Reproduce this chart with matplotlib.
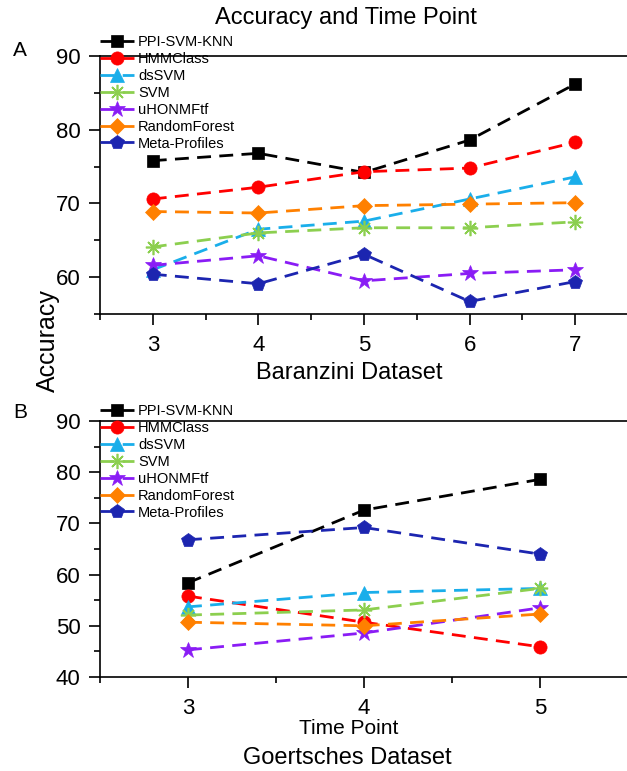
import numpy as np
import matplotlib
matplotlib.use('Agg')
import matplotlib.pyplot as plt
from matplotlib.ticker import MultipleLocator

plt.rcParams['font.family'] = ['Liberation Sans', 'DejaVu Sans']

# datos
methods = ['PPI-SVM-KNN', 'HMMClass', 'dsSVM', 'SVM', 'uHONMFtf', 'RandomForest', 'Meta-Profiles']
colors = ['#000000', '#ff0000', '#1aaeea', '#8ccf4f', '#8a1cf5', '#ff8000', '#1c25b0']
markers = ['s', 'o', '^', (8, 2, 0), '*', 'D', 'p']
msizes = [8, 9.5, 10, 11, 12, 8.5, 10.5]

tp_a = [3, 4, 5, 6, 7]
acc_a = {
    'PPI-SVM-KNN':   [75.8, 76.8, 74.2, 78.6, 86.2],
    'HMMClass':      [70.6, 72.2, 74.3, 74.8, 78.3],
    'dsSVM':         [61.0, 66.5, 67.6, 70.6, 73.6],
    'SVM':           [64.1, 66.0, 66.7, 66.7, 67.5],
    'uHONMFtf':      [61.6, 62.9, 59.5, 60.5, 61.0],
    'RandomForest':  [68.9, 68.7, 69.7, 69.9, 70.1],
    'Meta-Profiles': [60.4, 59.1, 63.1, 56.7, 59.4],
}

tp_b = [3, 4, 5]
acc_b = {
    'PPI-SVM-KNN':   [58.4, 72.6, 78.6],
    'HMMClass':      [55.8, 50.7, 45.9],
    'dsSVM':         [53.7, 56.5, 57.3],
    'SVM':           [52.1, 53.1, 57.3],
    'uHONMFtf':      [45.3, 48.6, 53.5],
    'RandomForest':  [50.7, 50.0, 52.3],
    'Meta-Profiles': [66.8, 69.2, 64.0],
}

W, H = 627, 771
fig = plt.figure(figsize=(W / 100, H / 100), dpi=100)

def px_axes(left, top, right, bottom):
    return fig.add_axes([left / W, 1 - bottom / H, (right - left) / W, (bottom - top) / H])

ax_a = px_axes(100, 56, 628, 314)
ax_b = px_axes(100, 421, 628, 677)


def draw(ax, tp, acc, xlim, ylim, leg_y):
    for m, c, mk, ms in zip(methods, colors, markers, msizes):
        ax.plot(tp, acc[m], color=c, marker=mk, markersize=ms, linewidth=2,
                linestyle=(0, (5, 3)), markeredgecolor=c,
                markeredgewidth=1.2 if mk == (8, 2, 0) else 0.5, label=m)
    ax.set_xlim(*xlim)
    ax.set_ylim(*ylim)
    ax.xaxis.set_major_locator(MultipleLocator(1))
    ax.xaxis.set_minor_locator(MultipleLocator(0.5))
    ax.yaxis.set_major_locator(MultipleLocator(10))
    ax.yaxis.set_minor_locator(MultipleLocator(5))
    ax.tick_params(which='major', direction='out', length=8, width=1.2, labelsize=16, pad=6)
    ax.tick_params(which='minor', direction='out', length=4.5, width=1.2)
    ax.tick_params(axis='x', which='major', pad=7)
    ax.spines['right'].set_visible(False)
    for s in ['left', 'bottom', 'top']:
        ax.spines[s].set_linewidth(1.2)
    ax.legend(loc='upper left', bbox_to_anchor=(0, leg_y), frameon=False, fontsize=10.5,
              borderpad=0, borderaxespad=0, handlelength=2.3, handletextpad=0.3,
              labelspacing=0.2)


draw(ax_a, tp_a, acc_a, (2.5, 7.5), (55, 90), 1.081)
draw(ax_b, tp_b, acc_b, (2.5, 5.5), (40, 90), 1.066)
ax_a.set_yticks([60, 70, 80, 90])

fig.text(346 / W, 1 - 18 / H, 'Accuracy and Time Point', ha='center', va='center', fontsize=17)
fig.text(20 / W, 1 - 50 / H, 'A', ha='center', va='center', fontsize=15)
fig.text(20 / W, 1 - 413 / H, 'B', ha='center', va='center', fontsize=15)
fig.text(48 / W, 1 - 341 / H, 'Accuracy', ha='center', va='center', rotation=90, fontsize=18)
fig.text(349 / W, 1 - 373 / H, 'Baranzini Dataset', ha='center', va='center', fontsize=17)
fig.text(349 / W, 1 - 728 / H, 'Time Point', ha='center', va='center', fontsize=15)
fig.text(347 / W, 1 - 758 / H, 'Goertsches Dataset', ha='center', va='center', fontsize=17)

fig.savefig('out.png', dpi=100)
